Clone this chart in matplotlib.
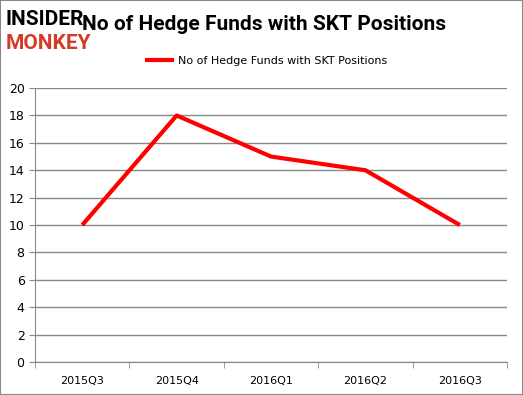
import matplotlib.pyplot as plt
from matplotlib.patches import Rectangle

quarters = ["2015Q3", "2015Q4", "2016Q1", "2016Q2", "2016Q3"]
hedge_funds = [10, 18, 15, 14, 10]
series_label = "No of Hedge Funds with SKT Positions"

fig = plt.figure(figsize=(5.23, 3.95), dpi=100)
ax = fig.add_axes([0.067, 0.0835, 0.9025, 0.6935])

x = list(range(len(quarters)))
ax.plot(x, hedge_funds, color="#ff0000", linewidth=3, label=series_label,
        solid_capstyle="butt")

ax.set_xlim(-0.5, len(quarters) - 0.5)
ax.set_ylim(0, 20)
ax.set_yticks(range(0, 21, 2))
ax.set_xticks(x)
ax.set_xticklabels(quarters)
ax.set_xticks([i - 0.5 for i in range(len(quarters) + 1)], minor=True)
ax.tick_params(axis="x", which="major", length=0, pad=10, labelsize=8)
ax.tick_params(axis="x", which="minor", length=4, color="#888888")
ax.tick_params(axis="y", length=4, color="#888888", labelsize=9)

ax.grid(True, axis="y", color="#888888", linewidth=1)
ax.set_axisbelow(True)
for side in ["top", "right"]:
    ax.spines[side].set_visible(False)
for side in ["left", "bottom"]:
    ax.spines[side].set_color("#888888")

ax.legend(loc="lower center", bbox_to_anchor=(0.49, 1.045), frameon=False,
          fontsize=8, handlelength=2.6, handletextpad=0.4)

fig.text(0.505, 0.937, series_label, ha="center", va="center",
         fontsize=15, fontweight="bold", family="Roboto")

# logo
fig.patches.append(Rectangle((0.008, 0.86), 0.17, 0.125, transform=fig.transFigure,
                             facecolor="white", edgecolor="none"))
fig.text(0.01, 0.95, "INSIDER", ha="left", va="center", fontsize=15,
         fontweight="bold", color="black", family="Roboto")
fig.text(0.01, 0.891, "MONKEY", ha="left", va="center", fontsize=15,
         fontweight="bold", color="#d23c28", family="Roboto")

fig.patches.append(Rectangle((0, 0), 1, 1, transform=fig.transFigure,
                             facecolor="none", edgecolor="#888888", linewidth=1.5))

fig.savefig("out.png", dpi=100)
